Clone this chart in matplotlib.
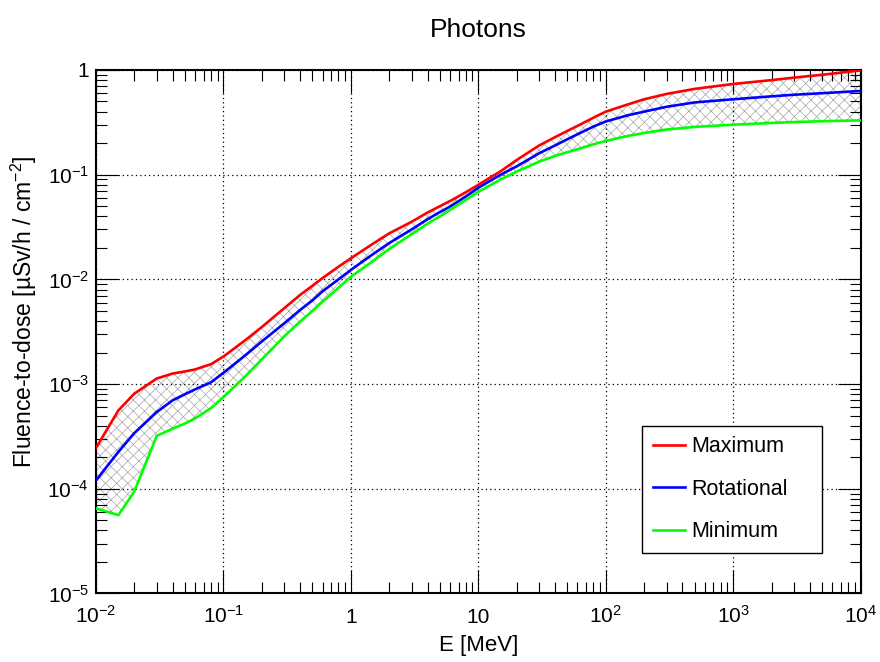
import matplotlib
matplotlib.use("Agg")
import matplotlib.pyplot as plt
from matplotlib.ticker import LogLocator, FixedLocator, FixedFormatter, NullFormatter

plt.rcParams['font.family'] = ['Liberation Sans', 'DejaVu Sans']
plt.rcParams['mathtext.default'] = 'regular'
plt.rcParams['hatch.linewidth'] = 0.5

# Photon energies [MeV]
energy = [0.01, 0.015, 0.02, 0.03, 0.04, 0.05, 0.06, 0.08, 0.1, 0.15, 0.2, 0.3,
          0.4, 0.5, 0.6, 0.8, 1, 1.5, 2, 3, 4, 5, 6, 8, 10, 15, 20, 30, 40, 50,
          60, 80, 100, 150, 200, 300, 500, 1000, 2000, 3000, 5000, 10000]

# fluence-to-dose coefficients [uSv/h / cm^-2]
maximum = [2.45e-4, 5.6e-4, 8.1e-4, 1.13e-3, 1.26e-3, 1.32e-3, 1.38e-3, 1.55e-3,
           1.83e-3, 2.65e-3, 3.5e-3, 5.3e-3, 7.1e-3, 8.7e-3, 1.03e-2, 1.32e-2,
           1.59e-2, 2.2e-2, 2.75e-2, 3.55e-2, 4.35e-2, 5.0e-2, 5.6e-2, 6.8e-2,
           8.0e-2, 0.108, 0.138, 0.19, 0.228, 0.262, 0.292, 0.35, 0.40, 0.47,
           0.525, 0.59, 0.66, 0.735, 0.80, 0.845, 0.90, 0.99]
rotational = [1.2e-4, 2.25e-4, 3.4e-4, 5.4e-4, 7.0e-4, 8.0e-4, 8.9e-4, 1.04e-3,
              1.28e-3, 1.9e-3, 2.55e-3, 3.8e-3, 5.1e-3, 6.3e-3, 7.7e-3, 1.0e-2,
              1.23e-2, 1.75e-2, 2.22e-2, 3.0e-2, 3.75e-2, 4.4e-2, 4.95e-2, 6.2e-2,
              7.5e-2, 0.10, 0.12, 0.16, 0.19, 0.218, 0.243, 0.288, 0.322, 0.37,
              0.40, 0.445, 0.49, 0.525, 0.56, 0.58, 0.60, 0.63]
minimum = [6.5e-5, 5.6e-5, 9.4e-5, 3.2e-4, 3.75e-4, 4.2e-4, 4.7e-4, 5.9e-4,
           7.5e-4, 1.2e-3, 1.72e-3, 2.85e-3, 3.95e-3, 5.0e-3, 6.1e-3, 8.3e-3,
           1.06e-2, 1.5e-2, 1.95e-2, 2.7e-2, 3.4e-2, 4.0e-2, 4.6e-2, 5.75e-2,
           6.85e-2, 9.0e-2, 0.107, 0.133, 0.151, 0.164, 0.175, 0.195, 0.21, 0.235,
           0.25, 0.27, 0.286, 0.30, 0.312, 0.318, 0.324, 0.33]

x_ticks = [1e-2, 1e-1, 1, 10, 1e2, 1e3, 1e4]
x_labels = ['$10^{-2}$', '$10^{-1}$', '1', '10', '$10^{2}$', '$10^{3}$', '$10^{4}$']
y_ticks = [1e-5, 1e-4, 1e-3, 1e-2, 1e-1, 1]
y_labels = ['$10^{-5}$', '$10^{-4}$', '$10^{-3}$', '$10^{-2}$', '$10^{-1}$', '1']

fig = plt.figure(figsize=(8.8, 6.62), dpi=100)
ax = fig.add_axes([0.109, 0.1035, 0.869, 0.7908])

ax.fill_between(energy, minimum, maximum, facecolor='none', edgecolor='#a6a6a6',
                linewidth=0, hatch='xxx', zorder=1)
ax.plot(energy, maximum, color='#ff0000', lw=1.9, label='Maximum', zorder=3)
ax.plot(energy, rotational, color='#0000ff', lw=1.9, label='Rotational', zorder=3)
ax.plot(energy, minimum, color='#00ff00', lw=1.9, label='Minimum', zorder=3)

ax.set_xscale('log')
ax.set_yscale('log')
ax.set_xlim(1e-2, 1e4)
ax.set_ylim(1e-5, 1)

ax.xaxis.set_major_locator(FixedLocator(x_ticks))
ax.xaxis.set_major_formatter(FixedFormatter(x_labels))
ax.yaxis.set_major_locator(FixedLocator(y_ticks))
ax.yaxis.set_major_formatter(FixedFormatter(y_labels))
ax.xaxis.set_minor_locator(LogLocator(base=10, subs=range(2, 10), numticks=50))
ax.yaxis.set_minor_locator(LogLocator(base=10, subs=range(2, 10), numticks=50))
ax.xaxis.set_minor_formatter(NullFormatter())
ax.yaxis.set_minor_formatter(NullFormatter())

ax.tick_params(which='both', direction='in', top=True, right=True, width=0.8)
ax.tick_params(which='major', length=16.5)
ax.tick_params(which='minor', length=8)
ax.tick_params(axis='x', labelsize=15, pad=21)
ax.tick_params(axis='y', labelsize=15, pad=5)
for lab in ax.get_xticklabels():
    lab.set_verticalalignment('baseline')

for s in ax.spines.values():
    s.set_linewidth(1.5)

ax.grid(True, which='major', color='black', linestyle=(0, (1, 2.5)), linewidth=0.9)

ax.set_xlabel('E [MeV]', fontsize=16, labelpad=6)
ax.set_ylabel('Fluence-to-dose [µSv/h / cm$^{-2}$]', fontsize=16.5)
ax.yaxis.set_label_coords(-0.074, 0.538)
ax.set_title('Photons', fontsize=19, pad=24)

leg = ax.legend(loc='center left', bbox_to_anchor=(0.714, 0.1987, 0.236, 0),
                mode='expand', fontsize=15.5, frameon=True, fancybox=False,
                edgecolor='black', framealpha=1, handlelength=1.5,
                handletextpad=0.3, labelspacing=1.0, borderpad=0.5,
                borderaxespad=0)
leg.get_frame().set_linewidth(1.0)

fig.savefig('out.png', dpi=100)
